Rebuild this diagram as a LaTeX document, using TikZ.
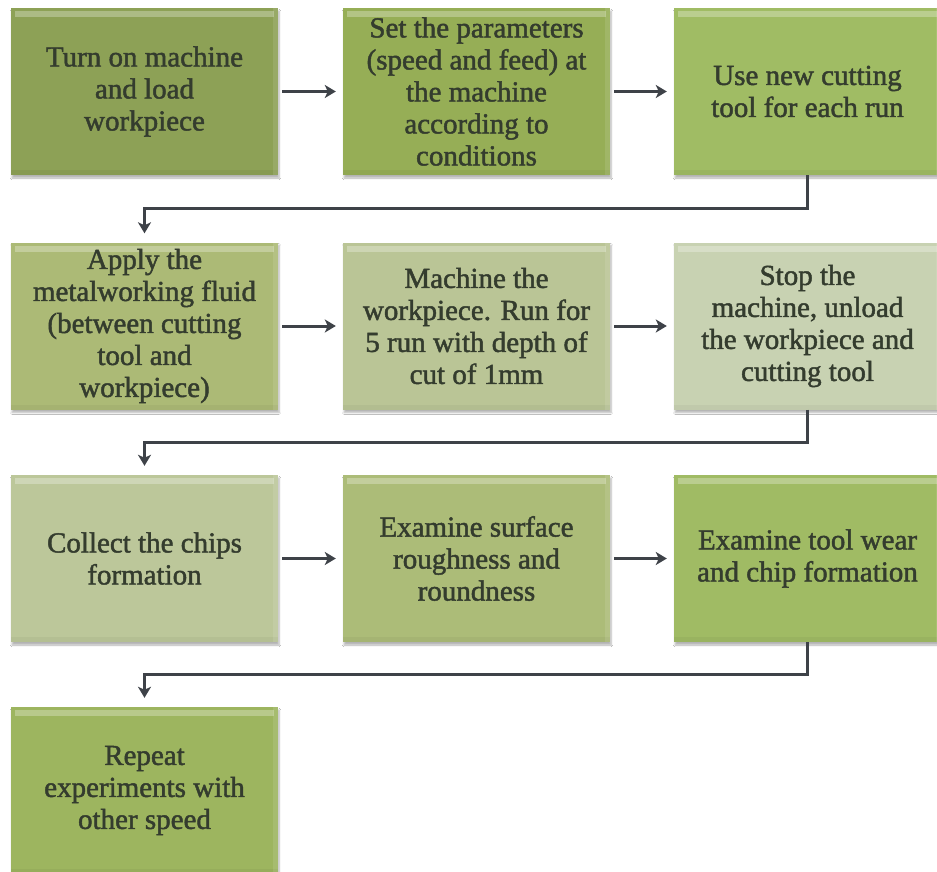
\documentclass[tikz,border=0pt]{standalone}
\usepackage{fontspec}
\setmainfont{Liberation Serif}
\newfontfamily\boxfont{Liberation Serif}[FakeBold=1.6]
\usetikzlibrary{arrows.meta,shadows.blur}
\definecolor{textc}{RGB}{52,60,46}
\definecolor{linec}{RGB}{62,66,72}
\definecolor{cA}{RGB}{141,161,86}
\definecolor{cB}{RGB}{150,174,86}
\definecolor{cC}{RGB}{160,188,100}
\definecolor{cD}{RGB}{172,186,118}
\definecolor{cE}{RGB}{186,197,150}
\definecolor{cF}{RGB}{200,210,178}
\definecolor{cG}{RGB}{188,199,154}
\definecolor{cH}{RGB}{172,188,120}
\definecolor{cI}{RGB}{160,187,100}
\definecolor{cJ}{RGB}{157,181,95}
\tikzset{
  stepbox/.style={rectangle, minimum width=267pt, minimum height=167pt, inner sep=0pt,
    align=center, text=textc, font=\boxfont\fontsize{29}{32}\selectfont,
    blur shadow={shadow xshift=1pt, shadow yshift=-3pt, shadow blur steps=6, shadow opacity=30},
    path picture={
      \fill[white,opacity=.28] ([xshift=4pt,yshift=-3pt]path picture bounding box.north west)
        rectangle ([xshift=-4pt,yshift=-9pt]path picture bounding box.north east);
      \fill[black,opacity=.04] ([yshift=5pt]path picture bounding box.south west)
        rectangle (path picture bounding box.south east);
      \fill[white,opacity=.10] ([xshift=-5pt]path picture bounding box.north east)
        rectangle (path picture bounding box.south east);
    }},
  conn/.style={draw=linec, line width=3pt, -{Stealth[length=11pt,width=13pt,inset=3pt]}},
}
\begin{document}
\begin{tikzpicture}[x=1pt,y=-1pt]
\useasboundingbox[fill=white] (0,0) rectangle (937,872);
\node[stepbox, fill=cA] (b1) at (144.5,91.5) {Turn on machine\\and load\\workpiece};
\node[stepbox, fill=cB] (b2) at (476.5,91.5) {Set the parameters\\(speed and feed) at\\the machine\\according to\\conditions};
\node[stepbox, fill=cC] (b3) at (807.5,91.5) {Use new cutting\\tool for each run};
\node[stepbox, fill=cD] (b4) at (144.5,326) {Apply the\\metalworking fluid\\(between cutting\\tool and\\workpiece)};
\node[stepbox, fill=cE] (b5) at (476.5,326) {Machine the\\workpiece. Run for\\5 run with depth of\\cut of 1mm};
\node[stepbox, fill=cF] (b6) at (807.5,326) {Stop the\\machine, unload\\the workpiece and\\cutting tool};
\node[stepbox, fill=cG] (b7) at (144.5,558.5) {Collect the chips\\formation};
\node[stepbox, fill=cH] (b8) at (476.5,558.5) {Examine surface\\roughness and\\roundness};
\node[stepbox, fill=cI] (b9) at (807.5,558.5) {Examine tool wear\\and chip formation};
\node[stepbox, fill=cJ] (b10) at (144.5,790.5) {Repeat\\experiments with\\other speed};
\draw[conn, shorten <=4pt, shorten >=7pt] (b1.east) -- (b2.west);
\draw[conn, shorten <=4pt, shorten >=7pt] (b2.east) -- (b3.west);
\draw[conn, shorten <=4pt, shorten >=7pt] (b4.east) -- (b5.west);
\draw[conn, shorten <=4pt, shorten >=7pt] (b5.east) -- (b6.west);
\draw[conn, shorten <=4pt, shorten >=7pt] (b7.east) -- (b8.west);
\draw[conn, shorten <=4pt, shorten >=7pt] (b8.east) -- (b9.west);
\draw[conn, shorten >=9pt] (b3.south) -- ++(0,33) -| (b4.north);
\draw[conn, shorten >=9pt] (b6.south) -- ++(0,33) -| (b7.north);
\draw[conn, shorten >=9pt] (b9.south) -- ++(0,32) -| (b10.north);
\end{tikzpicture}
\end{document}
